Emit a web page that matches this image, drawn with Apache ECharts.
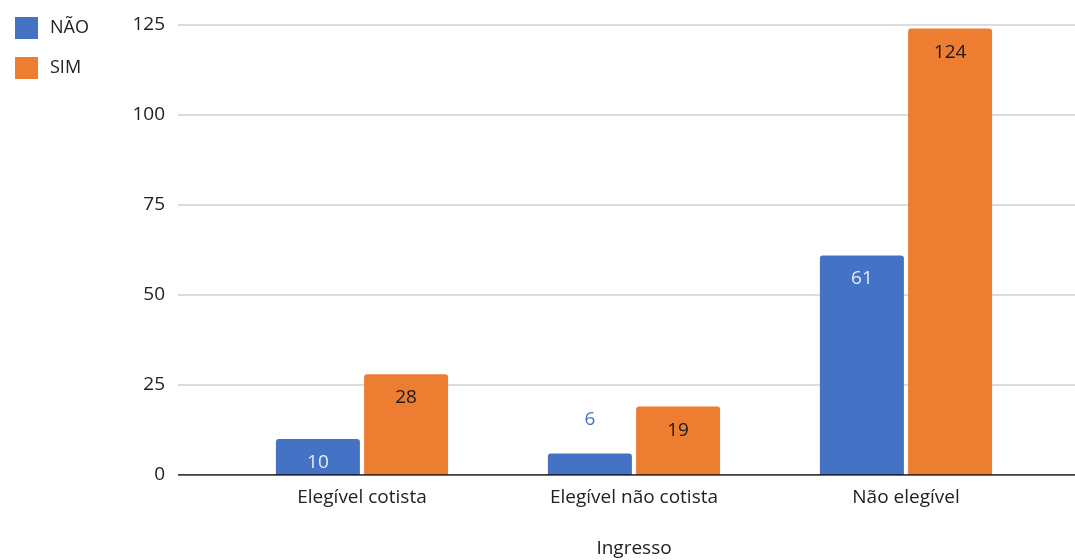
<!DOCTYPE html>
<html>
<head>
<meta charset="utf-8">
<script src="https://cdn.jsdelivr.net/npm/echarts@6/dist/echarts.min.js"></script>
<style>
  html, body { margin: 0; padding: 0; background: #fff; }
  #main { width: 1075px; height: 560px; }
</style>
</head>
<body>
<div id="main"></div>
<script>
var categories = ['Elegível cotista', 'Elegível não cotista', 'Não elegível'];
var naoValues = [10, 6, 61];
var simValues = [28, 19, 124];
var yTicks = [0, 25, 50, 75, 100, 125];

var FONT = '"Open Sans", "Noto Sans", sans-serif';
var BLUE = '#4472C4';
var ORANGE = '#ED7D31';

// small bars get their label above the bar
function barData(values, color, insideColor) {
  return values.map(function (v) {
    if (v < 8) {
      return { value: v, label: { position: 'top', distance: 24, color: color } };
    }
    return { value: v, label: { color: insideColor } };
  });
}

var myChart = echarts.init(document.getElementById('main'));
myChart.setOption({
  animation: false,
  textStyle: { fontFamily: FONT },
  legend: {
    orient: 'vertical',
    left: 10,
    top: 12,
    itemWidth: 23,
    itemHeight: 22,
    itemGap: 18,
    icon: 'rect',
    textStyle: { fontSize: 18, color: '#222', fontFamily: FONT, padding: [0, 0, 0, 7] },
    data: ['NÃO', 'SIM']
  },
  grid: [
    { left: 178, right: 0, top: 25, bottom: 85, outerBoundsMode: 'none', containLabel: false },
    { left: 226, right: 33, top: 25, bottom: 85, outerBoundsMode: 'none', containLabel: false }
  ],
  xAxis: [
    {
      gridIndex: 0, type: 'value', min: 0, max: 1,
      axisLine: { show: false }, axisTick: { show: false },
      axisLabel: { show: false }, splitLine: { show: false }
    },
    {
      gridIndex: 1, type: 'category', data: categories,
      axisLine: { show: false }, axisTick: { show: false },
      axisLabel: { fontSize: 19, color: '#222', margin: 13, fontFamily: FONT },
      name: 'Ingresso', nameLocation: 'middle', nameGap: 64,
      nameTextStyle: { fontSize: 19, color: '#222', fontFamily: FONT }
    }
  ],
  yAxis: [
    {
      gridIndex: 0, type: 'value', min: yTicks[0], max: yTicks[yTicks.length - 1], interval: 25,
      axisLine: { show: false }, axisTick: { show: false },
      axisLabel: { fontSize: 19, color: '#222', margin: 13, fontFamily: FONT },
      splitLine: {
        lineStyle: { color: '#d0d0d0', width: 1.5 }
      }
    },
    {
      gridIndex: 1, type: 'value', min: yTicks[0], max: yTicks[yTicks.length - 1],
      show: false, splitLine: { show: false }
    }
  ],
  series: [
    {
      // baseline across the full plot width
      type: 'line', xAxisIndex: 0, yAxisIndex: 0, data: [[0, 0], [1, 0]],
      symbol: 'none', silent: true, legendHoverLink: false,
      lineStyle: { color: '#111', width: 1.5 }, z: 5
    },
    {
      name: 'NÃO', type: 'bar', xAxisIndex: 1, yAxisIndex: 1,
      barWidth: 84, barGap: '5%',
      itemStyle: { color: BLUE, borderRadius: [3, 3, 0, 0] },
      label: {
        show: true, position: 'insideTop', distance: 14,
        fontSize: 19, fontFamily: FONT
      },
      data: barData(naoValues, BLUE, '#e6edf8')
    },
    {
      name: 'SIM', type: 'bar', xAxisIndex: 1, yAxisIndex: 1,
      barWidth: 84, barGap: '5%',
      itemStyle: { color: ORANGE, borderRadius: [3, 3, 0, 0] },
      label: {
        show: true, position: 'insideTop', distance: 14,
        fontSize: 19, fontFamily: FONT
      },
      data: barData(simValues, ORANGE, '#1a1a1a')
    }
  ]
});
</script>
</body>
</html>
